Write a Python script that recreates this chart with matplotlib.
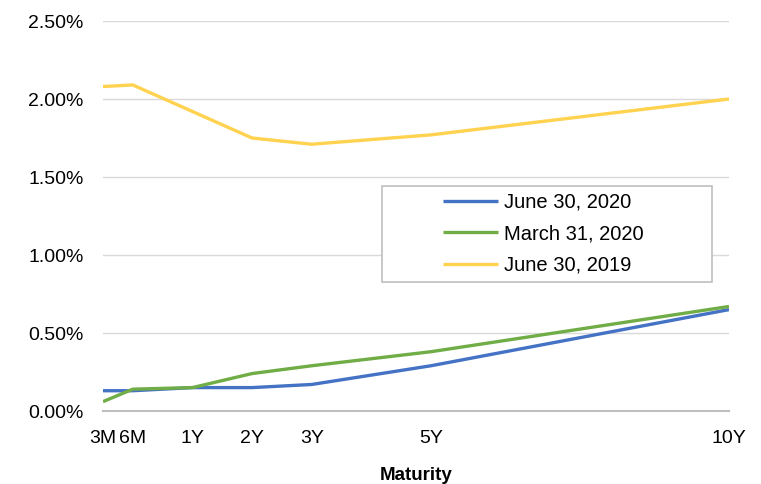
import matplotlib
matplotlib.use("Agg")
import matplotlib.pyplot as plt
from matplotlib.ticker import FuncFormatter
from matplotlib.patches import Rectangle

plt.rcParams['font.family'] = ['Liberation Sans', 'DejaVu Sans']

maturities = ["3M", "6M", "1Y", "2Y", "3Y", "5Y", "10Y"]
maturity_pos = [0, 0.5, 1.5, 2.5, 3.5, 5.5, 10.5]
june_2020 = [0.13, 0.13, 0.15, 0.15, 0.17, 0.29, 0.65]
march_2020 = [0.06, 0.14, 0.15, 0.24, 0.29, 0.38, 0.67]
june_2019 = [2.08, 2.09, 1.92, 1.75, 1.71, 1.77, 2.00]
y_ticks = [0, 0.5, 1.0, 1.5, 2.0, 2.5]

W, H = 761, 484
fig = plt.figure(figsize=(W / 100, H / 100), dpi=100)
ax = fig.add_axes([103 / W, 1 - 411 / H, (729 - 103) / W, (411 - 21) / H])

series = [("June 30, 2020", june_2020, "#4472C4"),
          ("March 31, 2020", march_2020, "#70AD47"),
          ("June 30, 2019", june_2019, "#FFD24F")]
for name, vals, col in series:
    ax.plot(maturity_pos, vals, color=col, lw=2.4, label=name, solid_capstyle='butt')

ax.set_xlim(0, 10.5)
ax.set_ylim(0, 2.5)
ax.set_yticks(y_ticks)
ax.yaxis.set_major_formatter(FuncFormatter(lambda v, p: f"{v:.2f}%"))
ax.set_xticks(maturity_pos)
ax.set_xticklabels(maturities)
ax.grid(axis='y', color='#d9d9d9', lw=1)
ax.set_axisbelow(True)
for s in ['top', 'right', 'left']:
    ax.spines[s].set_visible(False)
ax.spines['bottom'].set_color('#bfbfbf')
ax.spines['bottom'].set_linewidth(1.5)
ax.tick_params(axis='both', length=0, labelsize=14, colors='#000000')
ax.tick_params(axis='x', pad=14)
ax.tick_params(axis='y', pad=14)
ax.set_xlabel("Maturity", fontsize=13.5, fontweight='bold', labelpad=14)

# legend frame (Excel-style wide box)
fig.patches.append(Rectangle((382 / W, 1 - 282 / H), 330 / W, 96 / H,
                             transform=fig.transFigure, facecolor='white',
                             edgecolor='#bfbfbf', lw=1.2, zorder=5))
leg = fig.legend(loc='upper left', bbox_to_anchor=(443 / W, 1 - 193 / H),
                 fontsize=14.5, frameon=False, handlelength=2.75, handletextpad=0.3,
                 borderpad=0, labelspacing=0.62, borderaxespad=0)
leg.set_zorder(6)

fig.savefig("out.png", dpi=100)
